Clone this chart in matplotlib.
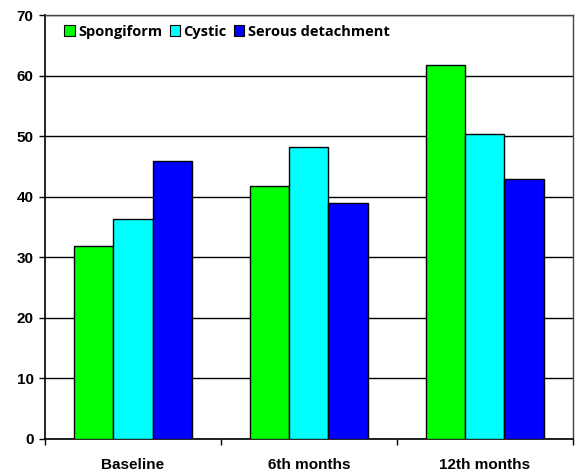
import matplotlib
matplotlib.use("Agg")
import matplotlib.pyplot as plt
import numpy as np
from matplotlib.patches import Patch

categories = ["Baseline", "6th months", "12th months"]
series_names = ["Spongiform", "Cystic", "Serous detachment"]
spongiform = [31.8, 41.7, 61.8]
cystic = [36.4, 48.3, 50.3]
serous = [45.9, 39.0, 42.9]
colors = ["#00ff00", "#00ffff", "#0000ff"]
yticks = [0, 10, 20, 30, 40, 50, 60, 70]

fig = plt.figure(figsize=(5.75, 4.73), dpi=100)
ax = fig.add_axes([0.078, 0.072, 0.918, 0.896])

x = np.arange(len(categories))
w = 0.224
for i, (vals, c) in enumerate(zip([spongiform, cystic, serous], colors)):
    ax.bar(x + (i - 1) * w, vals, width=w, color=c, edgecolor="black",
           linewidth=1.0, zorder=3)

ax.set_xlim(-0.5, len(categories) - 0.5)
ax.set_ylim(0, 70)
ax.set_yticks(yticks)
ax.yaxis.grid(True, color="black", linewidth=1.0, zorder=0)
ax.set_axisbelow(True)
ax.set_yticklabels([str(t) for t in yticks], fontfamily="Liberation Sans",
                   fontweight="bold", fontsize=11)
ax.tick_params(axis="y", length=4, width=1, pad=4, color="black")

ax.set_xticks(np.arange(len(categories) + 1) - 0.5)
ax.set_xticklabels([])
ax.set_xticks(x, minor=True)
ax.set_xticklabels(categories, minor=True, fontfamily="Liberation Sans",
                   fontweight="bold", fontsize=11)
ax.tick_params(axis="x", which="major", length=4, width=1, direction="out")
ax.tick_params(axis="x", which="minor", length=0, pad=14)

for s in ["left", "bottom"]:
    ax.spines[s].set_color("black")
    ax.spines[s].set_linewidth(1.2)
for s in ["top", "right"]:
    ax.spines[s].set_color("#444444")
    ax.spines[s].set_linewidth(1.0)

handles = [Patch(facecolor=c, edgecolor="black", linewidth=0.8) for c in colors]
leg = ax.legend(handles, series_names, loc="upper left",
                bbox_to_anchor=(0.015, 1.005), ncol=3, frameon=False,
                handlelength=0.7, handleheight=0.7, handletextpad=0.25,
                columnspacing=0.5, borderpad=0.3,
                prop={"family": "Open Sans", "weight": "bold", "size": 10.5})

fig.savefig("out.png", dpi=100)
